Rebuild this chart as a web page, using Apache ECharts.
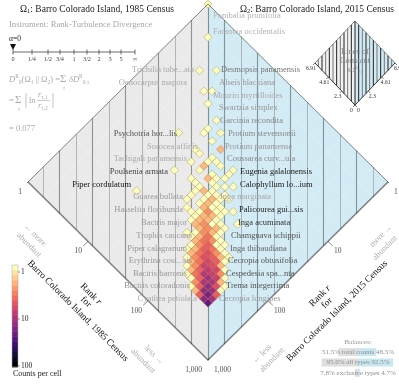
<!DOCTYPE html>
<html>
<head>
<meta charset="utf-8">
<script src="https://cdn.jsdelivr.net/npm/echarts/dist/echarts.min.js"></script>
<style>
  html, body { margin: 0; padding: 0; background: #fff; }
  #chart { width: 399px; height: 386px; }
</style>
</head>
<body>
<div id="chart"></div>
<script>
// ---------------- data ----------------
const LOG_MAX = 3;          // ranks run from 1 to 1,000
const BIN = 0.07;           // width of one rank bin, log10 units

// 2-D rank histogram: [rank bin 1985, rank bin 2015, species in cell]
const cells = [
  [0,0,1],[4,4,1],[7,9,1],[9,7,1],[10,11,1],[11,10,1],[12,12,1],[15,13,1],[15,15,1],
  [12,19,1],[15,16,1],[17,14,1],
  [17,16,1],
  [16,19,1],[19,16,2],
  [17,19,1],
  [19,18,1],
  [17,21,1],[19,19,1],[20,18,1],
  [19,20,2],[21,18,1],
  [16,24,1],[19,21,1],[23,17,1],
  [21,20,1],[23,18,1],
  [19,23,1],[21,21,2],[22,20,1],[23,19,1],
  [20,23,1],[22,21,1],
  [21,23,1],[23,21,1],[24,20,1],[25,19,1],
  [14,31,1],[21,24,1],[22,23,2],[23,22,1],
  [21,25,1],[23,23,1],[24,22,1],[25,21,1],
  [21,26,1],[23,24,1],[24,23,2],[25,22,1],[26,21,1],
  [23,25,1],[24,24,2],[25,23,1],
  [22,27,1],[24,25,2],[25,24,1],[26,23,1],
  [23,27,1],[24,26,1],[25,25,3],[26,24,1],[27,23,1],[28,22,1],
  [24,27,1],[25,26,2],[26,25,2],[27,24,1],
  [24,28,1],[25,27,2],[26,26,2],[27,25,1],
  [25,28,2],[26,27,3],[27,26,1],[28,25,1],[30,23,1],
  [26,28,2],[27,27,3],[28,26,2],[29,25,1],
  [25,30,1],[26,29,1],[27,28,3],[28,27,2],[29,26,1],
  [26,30,1],[27,29,2],[28,28,4],[29,27,1],
  [27,30,2],[28,29,4],[29,28,3],[30,27,1],
  [27,31,1],[28,30,3],[29,29,5],[30,28,1],[31,27,1],
  [27,32,1],[28,31,2],[29,30,5],[30,29,4],[31,28,1],
  [28,32,2],[29,31,4],[30,30,6],[31,29,3],[32,28,1],
  [28,33,1],[29,32,3],[30,31,6],[31,30,5],[32,29,2],[33,28,1],
  [29,33,2],[30,32,4],[31,31,7],[32,30,5],[33,29,1],
  [29,34,1],[30,33,3],[31,32,8],[32,31,6],[33,30,2],
  [30,34,2],[31,33,5],[32,32,9],[33,31,7],[34,30,1],
  [30,35,1],[31,34,4],[32,33,10],[33,32,8],[34,31,3],
  [31,35,1],[32,34,5],[33,33,12],[34,32,8],[35,31,1],
  [32,35,3],[33,34,11],[34,33,11],[35,32,2],
  [32,36,1],[33,35,5],[34,34,15],[35,33,6],[36,32,1],
  [33,36,2],[34,35,14],[35,34,13],[36,33,1],
  [34,36,5],[35,35,20],[36,34,5],
  [35,36,16],[36,35,12],
  [36,36,25]
];

const rankTicks = [1, 10, 100, 1000];
const rankTickLabels = ['1', '10', '100', '1,000'];

// lines of constant rank-turbulence divergence, |log10(r1/r2)|
const contourLevels = [0.275, 0.55, 0.825, 1.1, 1.375, 1.65, 1.925, 2.2, 2.475, 2.75];

const speciesLeft = [
  'Trichilia tube...ata', 'Oenocarpus mapora', 'Psychotria hor...lis', 'Sorocea affinis',
  'Tachigali panamensis', 'Poulsenia armata', 'Piper cordulatum', 'Guarea bullata',
  'Hasseltia floribunda', 'Bactris major', 'Trophis caucana', 'Piper calagranum',
  'Erythrina cost...sis', 'Bactris barronis', 'Bactris coloradonis', 'Cyathea petiolata'
];
const speciesRight = [
  'Pombalia prunifolia', 'Faramea occidentalis', 'Desmopsis panamensis', 'Alseis blackiana',
  'Mouriri myrtilloides', 'Swartzia simplex', 'Garcinia recondita', 'Protium stevensonii',
  'Protium panamense', 'Coussarea curv...ula', 'Eugenia galalonensis', 'Calophyllum lo...ium',
  'Inga marginata', 'Palicourea gui...sis', 'Inga acuminata', 'Chamguava schippii',
  'Inga thibaudiana', 'Cecropia obtusifolia', 'Cespedesia spa...nta', 'Trema integerrima',
  'Cecropia longipes'
];

const alphaTicks = ['0', '1/4', '1/2', '3/4', '1', '3/2', '2', '3', '5', '\u221e'];
const countTicks = ['1', '10', '100'];

const balanceNames = ['total counts', 'all types', 'exclusive types'];
const balanceLeft = [51.5, 95.6, 7.8];
const balanceRight = [48.5, 92.5, 4.7];

// ---------------- layout & style ----------------
const FONT = '"Liberation Serif", "DejaVu Serif", serif';
const leftLayout = [
  [194,70,'#aaa'],[187,83,'#aaa'],[177,134,'#555'],[198,147,'#aaa'],
  [187,159,'#aaa'],[168,172,'#444'],[131,185,'#111'],[183,197,'#999'],
  [183,210,'#999'],[187,223,'#999'],[192,236,'#999'],[187,249,'#999'],
  [192,261,'#999'],[187,274,'#999'],[190,286,'#999'],[197,299,'#aaa']
];
const rightLayout = [
  [213,16,'#b3b3b3'],[213,32,'#b3b3b3'],[221,70,'#777'],[219,83,'#999'],
  [213,96,'#aaa'],[219,108,'#999'],[220,121,'#888'],[228,134,'#888'],
  [225,147,'#999'],[227,159,'#888'],[240,172,'#1a1a1a'],[240,185,'#1a1a1a'],
  [220,197,'#aaa'],[239,210,'#1a1a1a'],[238,223,'#333'],[231,236,'#555'],
  [230,249,'#666'],[228,261,'#555'],[226,274,'#555'],[226,286,'#555'],
  [219,299,'#999']
];
const alphaTickX = [13, 32, 48, 60, 74, 87, 99, 110, 121, 135];

const magmaR = ['#fcfdbf','#fecf92','#fe9f6d','#f7705c','#de4968','#b73779',
                '#8c2981','#641a80','#3b0f70','#140e36','#000004'];

function magmaAt(t) {
  const n = magmaR.length - 1;
  const p = Math.min(n - 1e-9, Math.max(0, t * n));
  const k = Math.floor(p), f = p - k;
  const h = s => [1, 3, 5].map(o => parseInt(s.substr(o, 2), 16));
  const a = h(magmaR[k]), b = h(magmaR[k + 1]);
  return 'rgb(' + a.map((v, q) => Math.round(v + (b[q] - v) * f)).join(',') + ')';
}

// rotated frame: horizontal = log r1 - log r2, vertical = log r1 + log r2
const toPt = (l1, l2) => [l1 - l2, l1 + l2];

// ---------------- graphic helpers ----------------
const G = [];
function txt(x, y, text, o = {}) {
  G.push({
    type: 'text', x, y, z: 100, silent: true, rotation: o.rot || 0,
    style: {
      text, fill: o.color || '#222',
      font: (o.italic ? 'italic ' : '') + (o.size || 8.5) + 'px ' + FONT,
      textAlign: o.align || 'left', textVerticalAlign: o.valign || 'middle',
      align: o.align || 'left', verticalAlign: o.valign || 'middle',
      rich: o.rich
    }
  });
}
function seg(x1, y1, x2, y2, color, w, z) {
  G.push({ type: 'line', z: z || 100, silent: true,
    shape: { x1, y1, x2, y2 }, style: { stroke: color, lineWidth: w } });
}

// titles
const titleRich = {
  a: { fontSize: 9.5, fontFamily: 'Liberation Serif', lineHeight: 12, fill: '#222' },
  s: { fontSize: 6.5, fontFamily: 'Liberation Serif', lineHeight: 7, verticalAlign: 'bottom', fill: '#222' }
};
txt(20, 9, '{a|\u03a9}{s|1}{a|: Barro Colorado Island, 1985 Census}', { rich: titleRich });
txt(240, 9, '{a|\u03a9}{s|2}{a|: Barro Colorado Island, 2015 Census}', { rich: titleRich });
txt(9, 25, 'Instrument: Rank-Turbulence Divergence', { color: '#a8a8a8', size: 8.6 });

// alpha slider
txt(9, 39, '\u03b1=0', { size: 7.5, color: '#222' });
seg(alphaTickX[0], 52, alphaTickX[alphaTickX.length - 1], 52, '#444', 0.8);
alphaTicks.forEach((t, k) => {
  seg(alphaTickX[k], 49.5, alphaTickX[k], 54.5, '#444', 0.8);
  txt(alphaTickX[k], 59, t, { size: 6.3, align: 'center', color: '#444' });
});
G.push({ type: 'polygon', z: 101, silent: true,
  shape: { points: [[10, 44], [16, 44], [13, 50]] }, style: { fill: '#111' } });

// divergence formula
const fc = '#ababab';
const fr = {
  m: { fontSize: 8.5, fontFamily: 'Liberation Serif', lineHeight: 12, fill: fc },
  i: { fontSize: 8.5, fontFamily: 'Liberation Serif', fontStyle: 'italic', lineHeight: 12, fill: fc },
  p: { fontSize: 5.5, fontFamily: 'Liberation Serif', lineHeight: 6, verticalAlign: 'top', fill: fc },
  b: { fontSize: 5.5, fontFamily: 'Liberation Serif', lineHeight: 6, verticalAlign: 'bottom', fill: fc }
};
txt(9, 80, '{i|D}{p|R}{b|0}{m|(\u03a9}{b|1}{m| || \u03a9}{b|2}{m|) =}', { rich: fr });
txt(60, 79, '\u03a3', { size: 11, color: fc });
txt(63, 89, '\u03c4', { size: 5.5, color: fc, italic: true });
txt(69, 80, '{i|\u03b4D}{p|R}{b|0,\u03c4}', { rich: fr });
txt(9, 101, '=', { size: 8.5, color: fc });
txt(15, 100, '\u03a3', { size: 11, color: fc });
txt(18, 110, '\u03c4', { size: 5.5, color: fc, italic: true });
seg(26, 93, 26, 108, fc, 0.7);
txt(29, 101, 'ln', { size: 8.5, color: fc });
txt(38, 95, '{i|r}{b|\u03c4,1}', { rich: fr });
seg(37, 100.5, 50, 100.5, fc, 0.6);
txt(38, 106, '{i|r}{b|\u03c4,2}', { rich: fr });
seg(53, 93, 53, 108, fc, 0.7);
txt(9, 129, '= 0.077', { size: 8.5, color: fc });

// species labels
speciesLeft.forEach((s, k) => {
  const [x, y, c] = leftLayout[k];
  txt(x, y, s, { align: 'right', color: c, size: 8.5 });
});
speciesRight.forEach((s, k) => {
  const [x, y, c] = rightLayout[k];
  txt(x, y, s, { align: 'left', color: c, size: 8.5 });
});

// axis titles
const Q = Math.PI / 4;
const axRich = { i: { fontStyle: 'italic', fontSize: 9.5, fontFamily: 'Liberation Serif', fill: '#111' } };
txt(91, 294, 'Rank {i|r}', { rot: -Q, align: 'center', size: 9.5, color: '#111', rich: axRich });
txt(86, 302, 'for', { rot: -Q, align: 'center', size: 9.5, color: '#111' });
txt(78, 311, 'Barro Colorado Island, 1985 Census', { rot: -Q, align: 'center', size: 9.5, color: '#111' });
txt(320, 296, 'Rank {i|r}', { rot: Q, align: 'center', size: 9.5, color: '#111', rich: axRich });
txt(327, 303, 'for', { rot: Q, align: 'center', size: 9.5, color: '#111' });
txt(337, 311, 'Barro Colorado Island, 2015 Census', { rot: Q, align: 'center', size: 9.5, color: '#111' });

const ga = '#b0b0b0';
txt(35, 235, '\u2190 more', { rot: -Q, align: 'center', size: 8.5, color: ga });
txt(29, 245, 'abundant', { rot: -Q, align: 'center', size: 8.5, color: ga });
txt(154, 355, 'less \u2192', { rot: -Q, align: 'center', size: 8.5, color: ga });
txt(143, 361, 'abundant', { rot: -Q, align: 'center', size: 8.5, color: ga });
txt(381, 236, 'more \u2192', { rot: Q, align: 'center', size: 8.5, color: ga });
txt(385, 248, 'abundant', { rot: Q, align: 'center', size: 8.5, color: ga });
txt(262, 354, '\u2190 less', { rot: Q, align: 'center', size: 8.5, color: ga });
txt(272, 360, 'abundant', { rot: Q, align: 'center', size: 8.5, color: ga });

// colour bar for counts per cell
const CB = { x: 12, y: 265, w: 6, h: 102, n: 20 };
for (let k = 0; k < CB.n; k++) {
  G.push({ type: 'rect', z: 50, silent: true,
    shape: { x: CB.x, y: CB.y + k * CB.h / CB.n, width: CB.w, height: CB.h / CB.n + 0.4 },
    style: { fill: magmaAt(k / (CB.n - 1)) } });
}
G.push({ type: 'rect', z: 51, silent: true,
  shape: { x: CB.x, y: CB.y, width: CB.w, height: CB.h },
  style: { fill: 'none', stroke: '#aaa', lineWidth: 0.5 } });
const cbTickY = [272, 319, 366];
countTicks.forEach((t, k) => {
  seg(CB.x + CB.w, cbTickY[k], CB.x + CB.w + 2, cbTickY[k], '#555', 0.6);
  txt(CB.x + CB.w + 3, cbTickY[k], t, { size: 7.5, color: '#222' });
});
txt(13, 374, 'Counts per cell', { size: 8, color: '#222' });

// inset: lines of constant divergence
const IN = { cx: 355, cy: 63, hw: 40, hh: 42 };
G.push({ type: 'polygon', z: 20, silent: true,
  shape: { points: [[IN.cx, IN.cy - IN.hh], [IN.cx - IN.hw, IN.cy], [IN.cx, IN.cy + IN.hh]] },
  style: { fill: '#f1f1f1' } });
G.push({ type: 'polygon', z: 20, silent: true,
  shape: { points: [[IN.cx, IN.cy - IN.hh], [IN.cx + IN.hw, IN.cy], [IN.cx, IN.cy + IN.hh]] },
  style: { fill: '#d1eaf4' } });
contourLevels.forEach((L, k) => {
  const dx = L / LOG_MAX * IN.hw;
  const dy = dx * IN.hh / IN.hw;
  [-1, 1].forEach(sg => seg(IN.cx + sg * dx, IN.cy - IN.hh + dy, IN.cx + sg * dx, IN.cy + IN.hh - dy,
    k % 2 === 0 ? '#222' : '#777', 1, 21));
});
seg(IN.cx, IN.cy - IN.hh, IN.cx, IN.cy + IN.hh, '#222', 1, 21);
seg(IN.cx, IN.cy - IN.hh, IN.cx - IN.hw, IN.cy, '#444', 0.6, 22);
seg(IN.cx, IN.cy - IN.hh, IN.cx + IN.hw, IN.cy, '#444', 0.6, 22);
seg(IN.cx - IN.hw, IN.cy, IN.cx, IN.cy + IN.hh, '#222', 0.9, 22);
seg(IN.cx + IN.hw, IN.cy, IN.cx, IN.cy + IN.hh, '#222', 0.9, 22);
txt(IN.cx, 52, 'Lines of', { align: 'center', size: 8.5, color: 'rgba(120,120,120,0.85)' });
txt(IN.cx, 61, 'Constant', { align: 'center', size: 8.5, color: 'rgba(120,120,120,0.85)' });
txt(IN.cx, 70, '{i|\u03b4D}{p|R}{b|0,\u03c4}', { align: 'center', rich: {
  i: { fontSize: 6.5, fontStyle: 'italic', fontFamily: 'Liberation Serif', fill: 'rgba(120,120,120,0.85)', lineHeight: 9 },
  p: { fontSize: 4.5, fontFamily: 'Liberation Serif', verticalAlign: 'top', lineHeight: 5, fill: 'rgba(120,120,120,0.85)' },
  b: { fontSize: 4.5, fontFamily: 'Liberation Serif', verticalAlign: 'bottom', lineHeight: 5, fill: 'rgba(120,120,120,0.85)' } } });
const insetTicks = ['0', '2.3', '4.61', '6.91'];
insetTicks.forEach((t, k) => {
  const f = k / 3;
  const lx = IN.cx - IN.hw * f, rx = IN.cx + IN.hw * f, y = IN.cy + IN.hh - IN.hh * f;
  seg(lx, y, lx - 2, y + 2, '#222', 0.6);
  seg(rx, y, rx + 2, y + 2, '#222', 0.6);
  txt(k === 0 ? lx - 2 : lx - 4, y + 5, t, { align: k === 0 ? 'right' : 'center', size: 5.8, color: '#333' });
  txt(k === 0 ? rx + 2 : rx + 4, y + 5, t, { align: k === 0 ? 'left' : 'center', size: 5.8, color: '#333' });
});

// balances
txt(358, 342, 'Balances:', { align: 'center', size: 7, color: '#999' });
const balY = [352.2, 362.5, 372.8];
balanceNames.forEach((nm, k) => {
  txt(358, balY[k], balanceLeft[k].toFixed(1) + '% ' + nm + ' ' + balanceRight[k].toFixed(1) + '%',
      { align: 'center', size: 7, color: '#8f8f8f' });
});

// ---------------- series in the rotated rank frame ----------------
const lineData = [];
const gridStep = 0.25;
for (let v = gridStep; v < LOG_MAX - 1e-9; v += gridStep) {
  lineData.push({ coords: [toPt(v, 0), toPt(v, LOG_MAX)] });
  lineData.push({ coords: [toPt(0, v), toPt(LOG_MAX, v)] });
}
const contourData = [];
contourLevels.forEach((L, k) => {
  [-1, 1].forEach(sg => contourData.push({
    coords: [[sg * L, L], [sg * L, 2 * LOG_MAX - L]],
    lineStyle: { color: k % 2 === 0 ? '#3a3a3a' : '#808080', width: k % 2 === 0 ? 1.1 : 1 }
  }));
});
contourData.push({ coords: [[0, 0], [0, 2 * LOG_MAX]], lineStyle: { color: '#333', width: 1.1 } });

const edgeData = [
  { coords: [toPt(0, 0), toPt(0, LOG_MAX)], lineStyle: { width: 1 } },
  { coords: [toPt(0, 0), toPt(LOG_MAX, 0)], lineStyle: { width: 1 } },
  { coords: [toPt(0, LOG_MAX), toPt(LOG_MAX, LOG_MAX)], lineStyle: { width: 1.6 } },
  { coords: [toPt(LOG_MAX, 0), toPt(LOG_MAX, LOG_MAX)], lineStyle: { width: 1.6 } }
];
const TK = 0.08;
const tickLogs = rankTicks.map(r => Math.log10(r));
tickLogs.forEach(k => {
  edgeData.push({ coords: [toPt(k, LOG_MAX), toPt(k, LOG_MAX + TK)], lineStyle: { width: 1 } });
  edgeData.push({ coords: [toPt(LOG_MAX, k), toPt(LOG_MAX + TK, k)], lineStyle: { width: 1 } });
});
const tickLabelsLeft = tickLogs.map((k, n) => [...toPt(k, LOG_MAX), rankTickLabels[n]]);
const tickLabelsRight = tickLogs.map((k, n) => [...toPt(LOG_MAX, k), rankTickLabels[n]]);

const cellPts = cells.map(([i, j, c]) => [BIN * (i - j), BIN * (i + j), c, Math.log10(c)]);

const option = {
  animation: false,
  backgroundColor: '#fff',
  grid: [
    { left: 28, top: 4, width: 360, height: 356 },
    { left: 320, top: 347, width: 76, height: 31 }
  ],
  xAxis: [
    { type: 'value', min: -LOG_MAX, max: LOG_MAX, show: false, gridIndex: 0 },
    { type: 'value', min: -100, max: 100, show: false, gridIndex: 1 }
  ],
  yAxis: [
    { type: 'value', min: 0, max: 2 * LOG_MAX, inverse: true, show: false, gridIndex: 0 },
    { type: 'category', data: balanceNames, inverse: true, show: false, gridIndex: 1 }
  ],
  visualMap: {
    show: false, type: 'continuous', seriesIndex: 4, dimension: 3,
    min: 0, max: 2, inRange: { color: magmaR }
  },
  series: [
    { // 1985-dominant and 2015-dominant halves
      type: 'custom', silent: true, z: 0, clip: false,
      data: [[-1, 0], [1, 0]],
      renderItem: (params, api) => {
        const sd = api.value(0);
        const pts = [toPt(0, 0), sd < 0 ? toPt(0, LOG_MAX) : toPt(LOG_MAX, 0), toPt(LOG_MAX, LOG_MAX)]
          .map(p => api.coord(p));
        return { type: 'polygon', shape: { points: pts },
                 style: { fill: sd < 0 ? '#eaeaea' : '#d2ebf5' } };
      }
    },
    { // faint rank grid
      type: 'lines', coordinateSystem: 'cartesian2d', polyline: false, silent: true, z: 1,
      lineStyle: { color: 'rgba(255,255,255,0.75)', width: 0.6 }, data: lineData
    },
    { // contours
      type: 'lines', coordinateSystem: 'cartesian2d', polyline: false, silent: true, z: 2,
      lineStyle: { color: '#444', width: 1 }, data: contourData
    },
    { // tick labels on both rank axes
      type: 'scatter', symbolSize: 0, silent: true, z: 6, clip: false,
      data: tickLabelsLeft.map(d => ({ value: d, label: { align: 'right', offset: [-6, 10] } }))
        .concat(tickLabelsRight.map(d => ({ value: d, label: { align: 'left', offset: [6, 10] } }))),
      label: { show: true, position: 'inside', formatter: p => p.value[2],
               fontSize: 7.5, fontFamily: 'Liberation Serif', color: '#222' }
    },
    { // histogram cells
      type: 'scatter', symbol: 'diamond', symbolSize: [8.4, 8.3], z: 5, clip: false, silent: true,
      itemStyle: { borderColor: 'rgba(150,120,50,0.75)', borderWidth: 0.5, opacity: 1 },
      data: cellPts
    },
    { // diamond edges and tick marks
      type: 'lines', coordinateSystem: 'cartesian2d', polyline: false, silent: true, z: 7,
      lineStyle: { color: '#111', width: 1 }, data: edgeData
    },
    { // balances: Ω1 side
      type: 'bar', xAxisIndex: 1, yAxisIndex: 1, barWidth: 8, barGap: '-100%', silent: true,
      itemStyle: { color: '#dedede' }, data: balanceLeft.map(v => -v)
    },
    { // balances: Ω2 side
      type: 'bar', xAxisIndex: 1, yAxisIndex: 1, barWidth: 8, barGap: '-100%', silent: true,
      itemStyle: { color: '#c9e7f3' }, data: balanceRight
    }
  ],
  graphic: G
};

const chart = echarts.init(document.getElementById('chart'));
chart.setOption(option);
</script>
</body>
</html>
